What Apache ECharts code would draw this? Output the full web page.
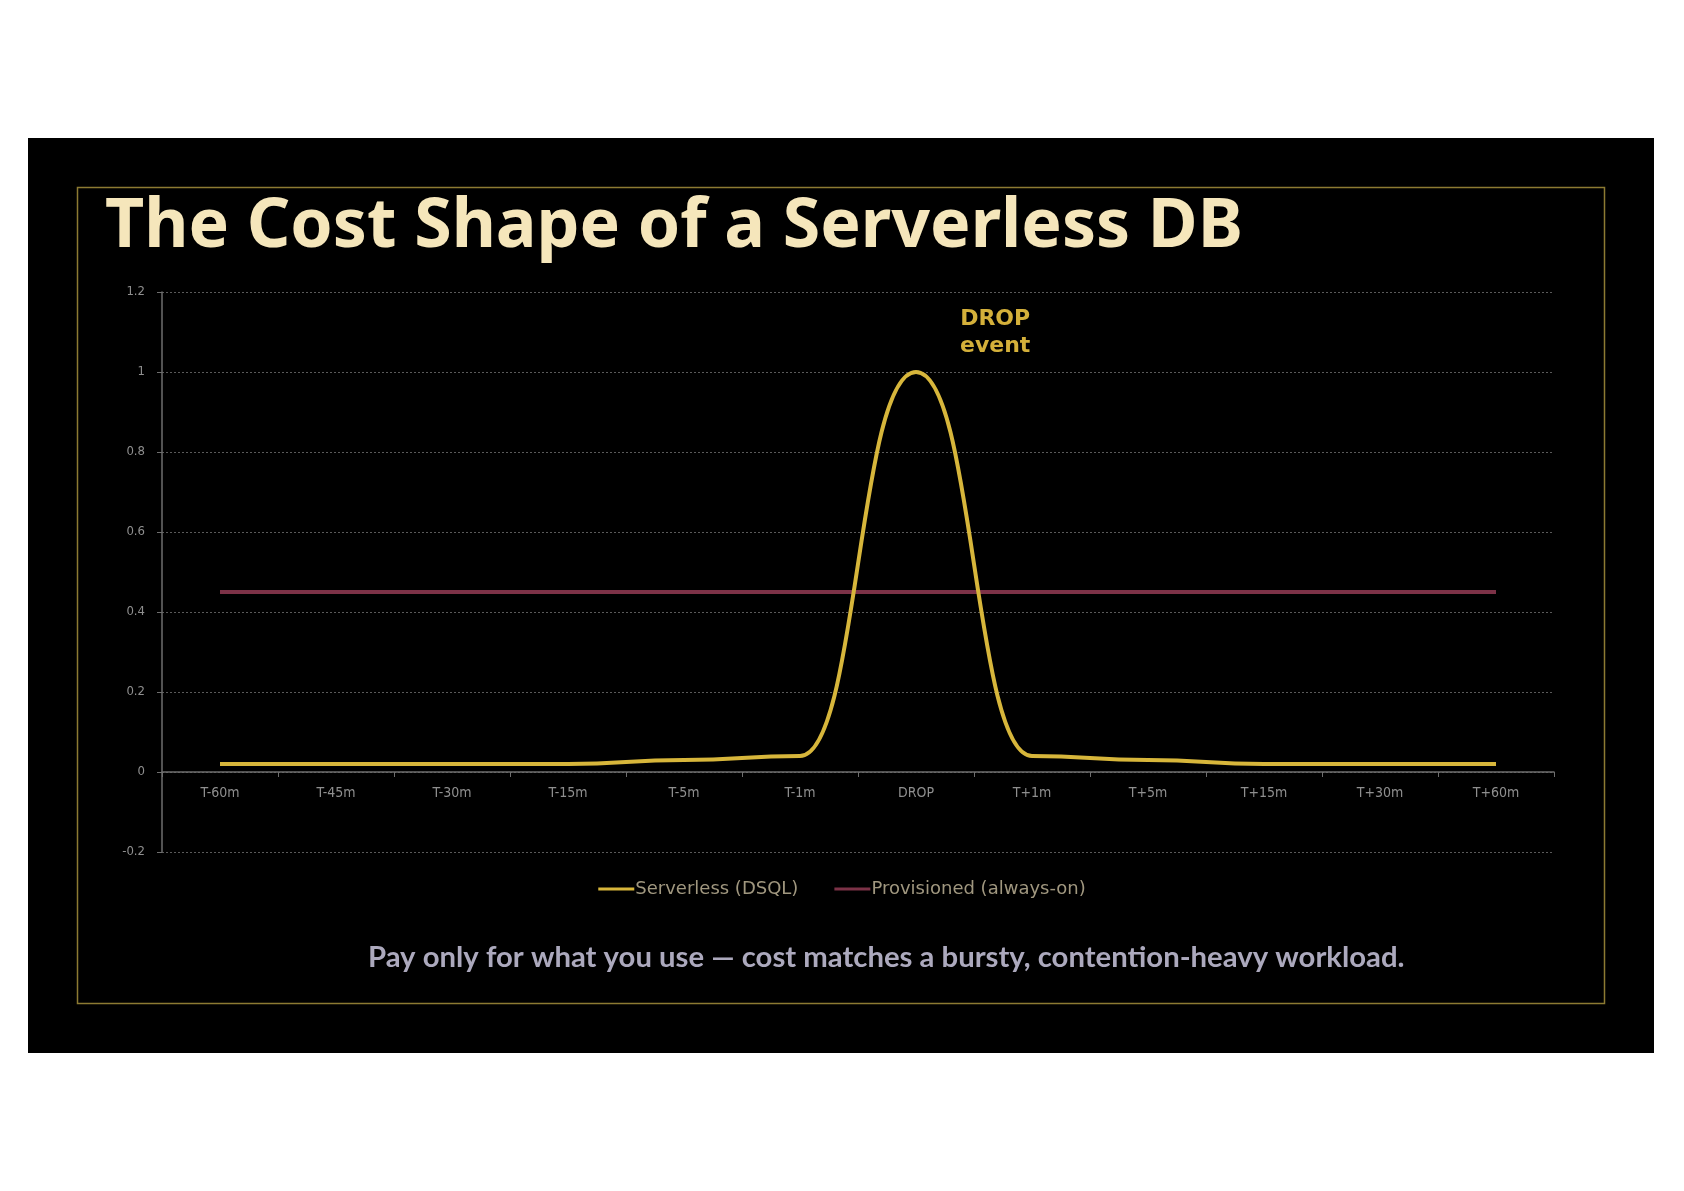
<!DOCTYPE html>
<html>
<head>
<meta charset="utf-8">
<script src="https://cdn.jsdelivr.net/npm/echarts@6/dist/echarts.min.js"></script>
<style>
html, body { margin: 0; padding: 0; background: #fff; }
#main { width: 1684px; height: 1191px; }
</style>
</head>
<body>
<div id="main"></div>
<script>
var categories = ['T-60m', 'T-45m', 'T-30m', 'T-15m', 'T-5m', 'T-1m', 'DROP', 'T+1m', 'T+5m', 'T+15m', 'T+30m', 'T+60m'];
var serverless = [0.02, 0.02, 0.02, 0.02, 0.03, 0.04, 1.0, 0.04, 0.03, 0.02, 0.02, 0.02];
var provisioned = [0.45, 0.45, 0.45, 0.45, 0.45, 0.45, 0.45, 0.45, 0.45, 0.45, 0.45, 0.45];
var seriesNames = ['Serverless (DSQL)', 'Provisioned (always-on)'];
var yTicks = { min: -0.2, max: 1.2, interval: 0.2 };

var chart = echarts.init(document.getElementById('main'));
var tickFont = '"DejaVu Sans Condensed", "Liberation Sans", sans-serif';

var option = {
	backgroundColor: '#ffffff',
	animation: false,
	graphic: [
		// black slide
		{ type: 'rect', left: 28, top: 138, z: -10,
			shape: { width: 1626, height: 915 }, style: { fill: '#000000' } },
		// thin gold frame
		{ type: 'rect', left: 75, top: 185, z: -9,
			shape: { width: 1527, height: 816 }, style: { fill: 'none', stroke: '#8c7a32', lineWidth: 1.5 } },
		// annotation over the peak
		{ type: 'text', left: 960, top: 306, z: 10,
			style: { text: 'DROP\nevent', fill: '#d4b03a', font: 'bold 22px "DejaVu Sans"', textAlign: 'center', lineHeight: 27 } },
		// footnote line
		{ type: 'text', left: 368, top: 943, z: 10,
			style: { text: 'Pay only for what you use \u2014 cost matches a bursty, contention-heavy workload.',
				fill: '#aca9bd', font: 'bold 29.3px Lato' } }
	],
	title: {
		text: 'The Cost Shape of a Serverless DB',
		left: 100,
		top: 189,
		textStyle: { color: '#f5e6bb', fontFamily: 'Noto Sans', fontWeight: 'bold', fontSize: 68 }
	},
	legend: {
		data: seriesNames,
		top: 875,
		left: 'center',
		icon: 'rect',
		itemWidth: 36,
		itemHeight: 3,
		itemGap: 36,
		textStyle: { color: '#a0977f', fontFamily: 'DejaVu Sans', fontSize: 18, padding: [0, 0, 0, -4] }
	},
	grid: {
		left: 162,
		right: 130,
		top: 292,
		bottom: 339,
		containLabel: false
	},
	xAxis: {
		type: 'category',
		data: categories,
		boundaryGap: true,
		offset: -80,
		axisLine: { onZero: false, lineStyle: { color: '#6e6e6e', width: 1.5 } },
		axisTick: { show: true, length: 5, lineStyle: { color: '#6e6e6e' } },
		axisLabel: { color: '#8f8f8f', fontFamily: tickFont, fontSize: 14, margin: 14 },
		splitLine: { show: false }
	},
	yAxis: {
		type: 'value',
		min: yTicks.min,
		max: yTicks.max,
		interval: yTicks.interval,
		axisLine: { show: true, lineStyle: { color: '#6e6e6e', width: 1.5 } },
		axisTick: { show: true, length: 5, lineStyle: { color: '#6e6e6e' } },
		axisLabel: {
			color: '#8f8f8f', fontFamily: tickFont, fontSize: 13, margin: 17,
			formatter: function (v) { return String(Math.round(v * 10) / 10); }
		},
		splitLine: { show: true, lineStyle: { color: '#5a5a5a', type: [2, 2], width: 1 } }
	},
	series: [{
		name: seriesNames[0],
		type: 'line',
		data: serverless,
		smooth: 0.5,
		smoothMonotone: 'x',
		symbol: 'none',
		z: 3,
		lineStyle: { color: '#d7b63b', width: 4 },
		itemStyle: { color: '#d7b63b' }
	}, {
		name: seriesNames[1],
		type: 'line',
		data: provisioned,
		symbol: 'none',
		z: 2,
		lineStyle: { color: '#7c3247', width: 4 },
		itemStyle: { color: '#7c3247' }
	}]
};

chart.setOption(option);
</script>
</body>
</html>
